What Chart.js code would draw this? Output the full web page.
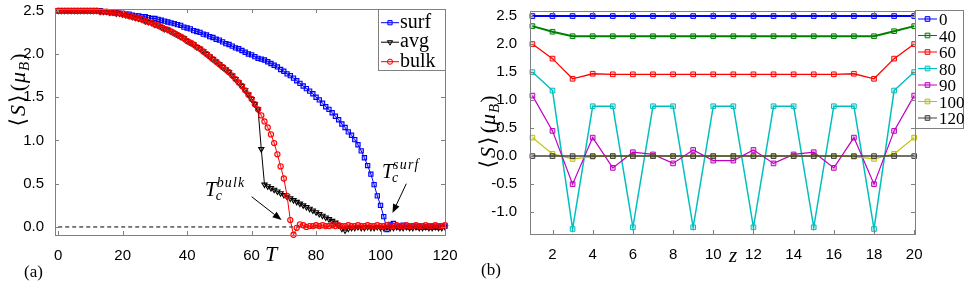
<!DOCTYPE html>
<html>
<head>
<meta charset="utf-8">
<script src="https://cdn.jsdelivr.net/npm/chart.js@4.4.1/dist/chart.umd.min.js"></script>
<style>
  html, body { margin: 0; padding: 0; background: #fff; }
  #wrap { position: relative; width: 969px; height: 284px; overflow: hidden; }
  canvas { position: absolute; top: 0; }
  #left { left: 0; }
  #right { left: 470px; }
</style>
</head>
<body>
<div id="wrap">
  <canvas id="left" width="470" height="284"></canvas>
  <canvas id="right" width="499" height="284"></canvas>
</div>
<script>
// ---- panel (a): <S> against temperature ----
const temps = [
  0, 1, 2, 3, 4, 5, 6, 7, 8, 9, 10, 11, 12, 13, 14, 15, 16, 17, 18, 19,
  20, 21, 22, 23, 24, 25, 26, 27, 28, 29, 30, 31, 32, 33, 34, 35, 36, 37, 38, 39,
  40, 41, 42, 43, 44, 45, 46, 47, 48, 49, 50, 51, 52, 53, 54, 55, 56, 57, 58, 59,
  60, 61, 62, 63, 64, 65, 66, 67, 68, 69, 70, 71, 72, 73, 74, 75, 76, 77, 78, 79,
  80, 81, 82, 83, 84, 85, 86, 87, 88, 89, 90, 91, 92, 93, 94, 95, 96, 97, 98, 99,
  100, 101, 102, 103, 104, 105, 106, 107, 108, 109, 110, 111, 112, 113, 114, 115, 116, 117, 118, 119,
  120
];
const surf = [
  2.50, 2.50, 2.50, 2.50, 2.50, 2.50, 2.50, 2.50, 2.50, 2.50,
  2.50, 2.50, 2.50, 2.50, 2.49, 2.49, 2.49, 2.48, 2.48, 2.47,
  2.47, 2.46, 2.46, 2.45, 2.44, 2.44, 2.43, 2.43, 2.42, 2.41,
  2.41, 2.40, 2.39, 2.38, 2.37, 2.36, 2.35, 2.34, 2.33, 2.31,
  2.30, 2.29, 2.27, 2.26, 2.25, 2.23, 2.22, 2.20, 2.19, 2.17,
  2.16, 2.14, 2.12, 2.11, 2.09, 2.07, 2.06, 2.04, 2.02, 2.00,
  1.99, 1.97, 1.95, 1.94, 1.93, 1.91, 1.89, 1.87, 1.85, 1.82,
  1.80, 1.77, 1.75, 1.72, 1.69, 1.66, 1.63, 1.60, 1.57, 1.54,
  1.50, 1.47, 1.43, 1.39, 1.36, 1.32, 1.28, 1.24, 1.19, 1.15,
  1.10, 1.06, 1.01, 0.95, 0.88, 0.80, 0.71, 0.61, 0.49, 0.36,
  0.25, 0.12, -0.03, 0.03, 0.04, 0.01, 0.00, 0.02, 0.01, 0.00,
  0.01, 0.01, 0.00, 0.01, 0.00, 0.01, 0.00, 0.01, 0.00, 0.01,
  0.01
];
const avg = [
  2.50, 2.50, 2.50, 2.50, 2.50, 2.50, 2.50, 2.50, 2.50, 2.50,
  2.50, 2.50, 2.50, 2.49, 2.49, 2.49, 2.48, 2.48, 2.47, 2.47,
  2.46, 2.45, 2.44, 2.43, 2.42, 2.41, 2.40, 2.38, 2.37, 2.36,
  2.34, 2.33, 2.31, 2.29, 2.28, 2.26, 2.24, 2.22, 2.20, 2.18,
  2.15, 2.13, 2.11, 2.08, 2.06, 2.03, 2.00, 1.97, 1.94, 1.91,
  1.88, 1.85, 1.82, 1.79, 1.75, 1.71, 1.67, 1.63, 1.58, 1.53,
  1.48, 1.42, 1.36, 0.90, 0.49, 0.47, 0.45, 0.43, 0.41, 0.39,
  0.37, 0.35, 0.33, 0.31, 0.29, 0.27, 0.25, 0.23, 0.21, 0.19,
  0.17, 0.15, 0.13, 0.11, 0.09, 0.07, 0.05, 0.02, -0.02, -0.04,
  -0.02, -0.01, -0.01, 0.00, -0.01, -0.01, 0.00, -0.01, -0.01, 0.00,
  -0.01, -0.01, 0.00, -0.01, -0.01, 0.00, -0.01, -0.01, 0.00, -0.01,
  -0.01, 0.00, -0.01, -0.01, 0.00, -0.01, -0.01, 0.00, -0.01, -0.01,
  0.00
];
const bulk = [
  2.50, 2.50, 2.50, 2.50, 2.50, 2.50, 2.50, 2.50, 2.50, 2.50,
  2.50, 2.50, 2.50, 2.49, 2.49, 2.49, 2.48, 2.48, 2.47, 2.47,
  2.46, 2.45, 2.44, 2.43, 2.42, 2.41, 2.40, 2.38, 2.37, 2.36,
  2.34, 2.33, 2.31, 2.29, 2.28, 2.26, 2.24, 2.22, 2.20, 2.18,
  2.15, 2.13, 2.11, 2.08, 2.06, 2.03, 2.00, 1.97, 1.94, 1.91,
  1.88, 1.85, 1.82, 1.79, 1.75, 1.71, 1.67, 1.63, 1.58, 1.53,
  1.48, 1.42, 1.36, 1.29, 1.22, 1.15, 1.07, 0.97, 0.84, 0.70,
  0.56, 0.36, 0.08, -0.09, -0.01, 0.03, 0.02, 0.00, 0.01, 0.01,
  0.02, 0.01, 0.02, 0.01, 0.01, 0.02, 0.01, 0.02, 0.01, 0.01,
  0.02, 0.01, 0.01, 0.02, 0.01, 0.01, 0.02, 0.01, 0.01, 0.02,
  0.01, 0.01, 0.02, 0.01, 0.01, 0.02, 0.01, 0.01, 0.02, 0.01,
  0.01, 0.02, 0.01, 0.01, 0.02, 0.01, 0.01, 0.02, 0.01, 0.01,
  0.02
];
const zeroT = [0, 120];
const zeroS = [0, 0];
const tTicks = [0, 20, 40, 60, 80, 100, 120];
const sTicksA = [0, 0.5, 1, 1.5, 2, 2.5];

// ---- panel (b): <S> across the layers z ----
const layers = [1, 2, 3, 4, 5, 6, 7, 8, 9, 10, 11, 12, 13, 14, 15, 16, 17, 18, 19, 20];
const profileNames = ['0', '40', '60', '80', '90', '100', '120'];
const prof0 = [2.50, 2.50, 2.50, 2.50, 2.50, 2.50, 2.50, 2.50, 2.50, 2.50, 2.50, 2.50, 2.50, 2.50, 2.50, 2.50, 2.50, 2.50, 2.50, 2.50];
const prof40 = [2.32, 2.22, 2.14, 2.14, 2.14, 2.14, 2.14, 2.14, 2.14, 2.14, 2.14, 2.14, 2.14, 2.14, 2.14, 2.14, 2.14, 2.14, 2.23, 2.32];
const prof60 = [2.00, 1.74, 1.38, 1.47, 1.46, 1.46, 1.46, 1.46, 1.46, 1.46, 1.46, 1.46, 1.46, 1.46, 1.46, 1.46, 1.47, 1.38, 1.74, 2.00];
const prof80 = [1.50, 1.17, -1.30, 0.89, 0.89, -1.27, 0.89, 0.89, -1.27, 0.89, 0.89, -1.27, 0.89, 0.89, -1.27, 0.89, 0.89, -1.30, 1.17, 1.50];
const prof90 = [1.08, 0.45, -0.50, 0.33, -0.21, 0.07, 0.03, -0.13, 0.11, -0.08, -0.08, 0.11, -0.13, 0.03, 0.07, -0.21, 0.33, -0.50, 0.45, 1.08];
const prof100 = [0.33, 0.04, -0.05, -0.01, 0.00, 0.00, 0.00, 0.00, 0.00, 0.00, 0.00, 0.00, 0.00, 0.00, 0.00, 0.00, -0.01, -0.05, 0.04, 0.33];
const prof120 = [0.00, 0.00, 0.00, 0.00, 0.00, 0.00, 0.00, 0.00, 0.00, 0.00, 0.00, 0.00, 0.00, 0.00, 0.00, 0.00, 0.00, 0.00, 0.00, 0.00];
const zTicks = [2, 4, 6, 8, 10, 12, 14, 16, 18, 20];
const sTicksB = [-1, -0.5, 0, 0.5, 1, 1.5, 2, 2.5];

const pts = (xs, ys) => xs.map((x, i) => ({ x: x, y: ys[i] }));

const SANS = '"Liberation Sans", Arial, sans-serif';
const SERIF = '"Liberation Serif", "DejaVu Serif", serif';
const GRAY = '#808080';

// box around the plot with matlab-style inward ticks
const frame = {
  id: 'frame',
  afterDatasetsDraw(chart) {
    const { ctx, chartArea: a, scales: { x, y } } = chart;
    ctx.save();
    ctx.strokeStyle = GRAY;
    ctx.lineWidth = 1;
    ctx.beginPath();
    x.ticks.forEach(t => {
      const px = Math.round(x.getPixelForValue(t.value)) + 0.5;
      ctx.moveTo(px, a.bottom); ctx.lineTo(px, a.bottom - 4);
      ctx.moveTo(px, a.top); ctx.lineTo(px, a.top + 4);
    });
    y.ticks.forEach(t => {
      const py = Math.round(y.getPixelForValue(t.value)) + 0.5;
      ctx.moveTo(a.left, py); ctx.lineTo(a.left + 4, py);
      ctx.moveTo(a.right, py); ctx.lineTo(a.right - 4, py);
    });
    ctx.stroke();
    ctx.strokeRect(Math.round(a.left) + 0.5, Math.round(a.top) + 0.5,
      Math.round(a.right - a.left), Math.round(a.bottom - a.top));
    ctx.restore();
  }
};

function legendBox(o) {
  return {
    id: 'legendBox',
    afterDraw(chart) {
      const ctx = chart.ctx;
      ctx.save();
      ctx.fillStyle = '#fff';
      ctx.fillRect(o.x, o.y, o.w, o.h);
      ctx.strokeStyle = GRAY;
      ctx.lineWidth = 1;
      ctx.strokeRect(o.x + 0.5, o.y + 0.5, o.w, o.h);
      ctx.font = o.font;
      let row = 0;
      chart.data.datasets.forEach(ds => {
        if (!ds.label) return;
        const ly = o.y0 + row * o.dy;
        row++;
        ctx.strokeStyle = ds.borderColor;
        ctx.lineWidth = 1;
        ctx.beginPath();
        ctx.moveTo(o.lx0, ly); ctx.lineTo(o.lx1, ly);
        ctx.stroke();
        ctx.fillStyle = ds.pointBackgroundColor;
        Chart.helpers.drawPoint(ctx, {
          pointStyle: ds.pointStyle, rotation: ds.pointRotation || 0,
          radius: ds.pointRadius, borderWidth: 1
        }, (o.lx0 + o.lx1) / 2, ly);
        ctx.fillStyle = '#000';
        ctx.fillText(ds.label, o.tx, ly + o.base);
      });
      ctx.restore();
    }
  };
}

// <S>(mu_B) written bottom to top
function yTitle(ctx, cx, cy, size) {
  const up = size + 'px ' + SERIF, it = 'italic ' + size + 'px ' + SERIF;
  const sub = 'italic ' + Math.round(size * 0.7) + 'px ' + SERIF;
  const parts = [['\u27E8', up, 0, 2], ['S', it, 0, 2], ['\u27E9', up, 0, 3],
                 ['(', up, 0, 1], ['\u03BC', it, 0, 1], ['B', sub, 4, 1], [')', up, 0, 0]];
  let total = 0;
  parts.forEach(p => { ctx.font = p[1]; p.push(ctx.measureText(p[0]).width + p[3]); total += p[4]; });
  ctx.save();
  ctx.translate(cx, cy);
  ctx.rotate(-Math.PI / 2);
  ctx.fillStyle = '#000';
  let px = -total / 2;
  parts.forEach(p => { ctx.font = p[1]; ctx.fillText(p[0], px, size * 0.33 + p[2]); px += p[4]; });
  ctx.restore();
}

function tcLabel(ctx, x, base, size, sup) {
  const small = 'italic ' + Math.round(size * 0.68) + 'px ' + SERIF;
  ctx.font = 'italic ' + size + 'px ' + SERIF;
  ctx.fillText('T', x, base);
  const w = ctx.measureText('T').width;
  ctx.font = small;
  ctx.fillText('c', x + w - 1, base + 4);
  ctx.fillText(sup.split('').join('\u200A'), x + w, base - 9);
}

function arrow(ctx, x0, y0, x1, y1) {
  const ang = Math.atan2(y1 - y0, x1 - x0), L = 9, W = 3.5;
  const bx = x1 - L * Math.cos(ang), by = y1 - L * Math.sin(ang);
  ctx.strokeStyle = '#000';
  ctx.lineWidth = 1;
  ctx.beginPath(); ctx.moveTo(x0, y0); ctx.lineTo(bx, by); ctx.stroke();
  ctx.beginPath();
  ctx.moveTo(x1, y1);
  ctx.lineTo(bx + W * Math.sin(ang), by - W * Math.cos(ang));
  ctx.lineTo(bx - W * Math.sin(ang), by + W * Math.cos(ang));
  ctx.closePath();
  ctx.fillStyle = '#000';
  ctx.fill();
}

const notesA = {
  id: 'notesA',
  afterDraw(chart) {
    const { ctx, scales: { x, y } } = chart;
    ctx.save();
    ctx.fillStyle = '#000';
    tcLabel(ctx, 205, 196, 21, 'bulk');
    tcLabel(ctx, 382, 178, 20, 'surf');
    arrow(ctx, x.getPixelForValue(60), y.getPixelForValue(0.35), x.getPixelForValue(69.3), y.getPixelForValue(0.08));
    arrow(ctx, x.getPixelForValue(108), y.getPixelForValue(0.5), x.getPixelForValue(103.7), y.getPixelForValue(0.16));
    yTitle(ctx, 18, 90, 22);
    ctx.fillStyle = '#000';
    ctx.font = 'italic 22px ' + SERIF;
    ctx.fillText('T', 265, 261);
    ctx.font = '17px ' + SERIF;
    ctx.fillText('(a)', 24, 277);
    ctx.restore();
  }
};

const notesB = {
  id: 'notesB',
  afterDraw(chart) {
    const ctx = chart.ctx;
    ctx.save();
    yTitle(ctx, 18, 132, 22);
    ctx.fillStyle = '#000';
    ctx.font = 'italic 21px ' + SERIF;
    ctx.fillText('z', 259, 262);
    ctx.font = '17px ' + SERIF;
    ctx.fillText('(b)', 11, 275);
    ctx.restore();
  }
};

function axes(xMin, xMax, xTicks, yMin, yMax, yTicks, yWidth, xHeight, yPad) {
  const tickFont = { family: SANS, size: 15 };
  return {
    x: {
      type: 'linear', min: xMin, max: xMax,
      grid: { display: false }, border: { display: false },
      afterBuildTicks: s => { s.ticks = xTicks.map(v => ({ value: v })); },
      afterFit: s => { s.height = xHeight; s.paddingLeft = 0; s.paddingRight = 0; },
      ticks: { font: tickFont, color: '#000', padding: 4, maxRotation: 0, autoSkip: false }
    },
    y: {
      type: 'linear', min: yMin, max: yMax,
      grid: { display: false }, border: { display: false },
      afterBuildTicks: s => { s.ticks = yTicks.map(v => ({ value: v })); },
      afterFit: s => { s.width = yWidth; s.paddingTop = 0; s.paddingBottom = 0; },
      ticks: { font: tickFont, color: '#000', padding: yPad, autoSkip: false,
               callback: v => v.toFixed(1) }
    }
  };
}

Chart.defaults.animation = false;

new Chart(document.getElementById('left'), {
  type: 'line',
  data: {
    datasets: [
      { label: 'surf', data: pts(temps, surf), borderColor: '#0000ff', borderWidth: 1,
        pointStyle: 'rect', pointRadius: 3, pointBorderWidth: 1.1,
        pointBackgroundColor: 'rgba(0,0,255,0.2)', order: 3, clip: false },
      { label: 'avg', data: pts(temps, avg), borderColor: '#000000', borderWidth: 1,
        pointStyle: 'triangle', pointRotation: 180, pointRadius: 3, pointBorderWidth: 1.1,
        pointBackgroundColor: 'rgba(0,0,0,0.1)', order: 2, clip: false },
      { label: 'bulk', data: pts(temps, bulk), borderColor: '#ff0000', borderWidth: 1,
        pointStyle: 'circle', pointRadius: 2.6, pointBorderWidth: 1.1,
        pointBackgroundColor: 'rgba(255,0,0,0.1)', order: 1, clip: false },
      { data: pts(zeroT, zeroS), borderColor: '#000', borderWidth: 1, borderDash: [4, 3],
        pointRadius: 0, order: 10 }
    ]
  },
  options: {
    responsive: false,
    devicePixelRatio: 1,
    layout: { padding: { left: 0, right: 25, top: 9, bottom: 0 } },
    scales: axes(-1, 120, tTicks, -0.093, 2.52, sTicksA, 55, 49, 3),
    plugins: { legend: { display: false }, tooltip: { enabled: false } }
  },
  plugins: [frame, legendBox({ x: 378, y: 9, w: 67, h: 61, font: '20px ' + SERIF,
    y0: 22.7, dy: 19.5, lx0: 381, lx1: 399, tx: 400, base: 5 }), notesA]
});

const profColors = ['#0000ff', '#008000', '#ff0000', '#00bfbf', '#bf00bf', '#bfbf00', '#404040'];
const profFills = ['rgba(0,0,255,0.2)', 'rgba(0,128,0,0.2)', 'rgba(255,0,0,0.15)', 'rgba(0,191,191,0.2)',
                   'rgba(191,0,191,0.2)', 'rgba(191,191,0,0.2)', 'rgba(64,64,64,0.25)'];
const profWidths = [2, 2, 1.3, 1.5, 1.2, 1.2, 1.5];
const profiles = [prof0, prof40, prof60, prof80, prof90, prof100, prof120];

new Chart(document.getElementById('right'), {
  type: 'line',
  data: {
    datasets: profiles.map((p, i) => ({
      label: profileNames[i], data: pts(layers, p),
      borderColor: profColors[i], borderWidth: profWidths[i],
      pointStyle: 'rect', pointRadius: 3.3, pointBorderWidth: 1,
      pointBackgroundColor: profFills[i],
      order: -i, clip: false
    }))
  },
  options: {
    responsive: false,
    devicePixelRatio: 1,
    layout: { padding: { left: 0, right: 54, top: 11, bottom: 0 } },
    scales: axes(0.88, 20.04, zTicks, -1.39, 2.59, sTicksB, 60, 50, 5),
    plugins: { legend: { display: false }, tooltip: { enabled: false } }
  },
  plugins: [frame, legendBox({ x: 445, y: 10, w: 48, h: 118, font: '17px ' + SERIF,
    y0: 19, dy: 16.5, lx0: 448, lx1: 467, tx: 469, base: 6 }), notesB]
});
</script>
</body>
</html>
